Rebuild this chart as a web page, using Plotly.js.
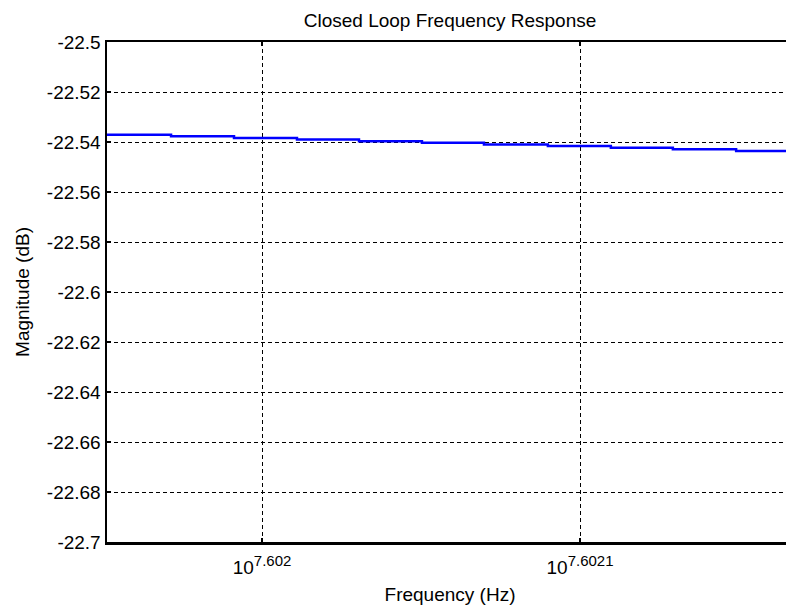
<!DOCTYPE html>
<html>
<head>
<meta charset="utf-8">
<script src="https://cdn.plot.ly/plotly-3.0.1.min.js"></script>
<style>
  html, body { margin: 0; padding: 0; overflow: hidden; background: #fff; width: 786px; height: 605px; }
  #chart { width: 793px; height: 605px; }
</style>
</head>
<body>
<div id="chart"></div>
<script>
// Frequency (log10 of Hz) at the points where the plotted magnitude changes
const logFreq = [7.60195126, 7.6019714, 7.6019912, 7.6020110, 7.6020305, 7.6020503,
                 7.6020698, 7.6020899, 7.6021097, 7.6021292, 7.6021491, 7.60216698];
// Magnitude (dB)
const magnitude = [-22.5371, -22.5377, -22.5384, -22.5390, -22.5397, -22.5403,
                   -22.5410, -22.5416, -22.5423, -22.5429, -22.5436, -22.5436];
// Axis settings
const xRangeLog = [7.60195126, 7.60216698];
const xTickLog = [7.602, 7.6021];
const xTickExp = ['7.602', '7.6021'];
const yTicks = [-22.5, -22.52, -22.54, -22.56, -22.58, -22.6, -22.62, -22.64, -22.66, -22.68, -22.7];
const yTickText = ['-22.5', '-22.52', '-22.54', '-22.56', '-22.58', '-22.6', '-22.62', '-22.64', '-22.66', '-22.68', '-22.7'];

const freqHz = logFreq.map(v => Math.pow(10, v));
const FONT = 'Liberation Sans, Arial, Helvetica, sans-serif';

const trace = {
  x: freqHz,
  y: magnitude,
  type: 'scatter',
  mode: 'lines',
  line: { color: '#0000ff', width: 2.5, shape: 'hv' },
  hoverinfo: 'skip'
};

const layout = {
  width: 793,
  height: 605,
  margin: { l: 107, r: 0, t: 42, b: 63 },
  paper_bgcolor: '#ffffff',
  plot_bgcolor: '#ffffff',
  showlegend: false,
  font: { family: FONT, size: 19, color: '#000' },
  title: {
    text: 'Closed Loop Frequency Response',
    font: { family: FONT, size: 19, color: '#000' },
    x: 0.5, xref: 'paper',
    y: 1 - 20 / 605, yref: 'container', yanchor: 'middle'
  },
  xaxis: {
    type: 'log',
    range: xRangeLog,
    tickmode: 'array',
    tickvals: xTickLog.map(v => Math.pow(10, v)),
    ticktext: xTickExp.map(e => '10<sup><span style="font-size:15px">' + e + '</span></sup>'),
    ticks: 'inside', ticklen: 4, tickwidth: 2, tickcolor: '#000',
    ticklabelstandoff: 7,
    showline: true, linecolor: '#000', linewidth: 2.5, mirror: 'ticks',
    showgrid: true, gridcolor: '#000', gridwidth: 1, griddash: '4px,3px',
    zeroline: false,
    tickfont: { family: FONT, size: 19, color: '#000' },
    title: { text: 'Frequency (Hz)', font: { family: FONT, size: 19, color: '#000' }, standoff: 12 },
    automargin: false
  },
  yaxis: {
    range: [-22.7, -22.5],
    tickmode: 'array',
    tickvals: yTicks,
    ticktext: yTickText,
    ticks: 'inside', ticklen: 4, tickwidth: 2, tickcolor: '#000',
    showline: true, linecolor: '#000', linewidth: 2.5, mirror: 'ticks',
    showgrid: true, gridcolor: '#000', gridwidth: 1, griddash: '4px,3px',
    zeroline: false,
    tickfont: { family: FONT, size: 19, color: '#000' },
    title: { text: 'Magnitude (dB)', font: { family: FONT, size: 19, color: '#000' }, standoff: 12 },
    automargin: false
  }
};

Plotly.newPlot('chart', [trace], layout, { staticPlot: true, displayModeBar: false });
</script>
</body>
</html>
